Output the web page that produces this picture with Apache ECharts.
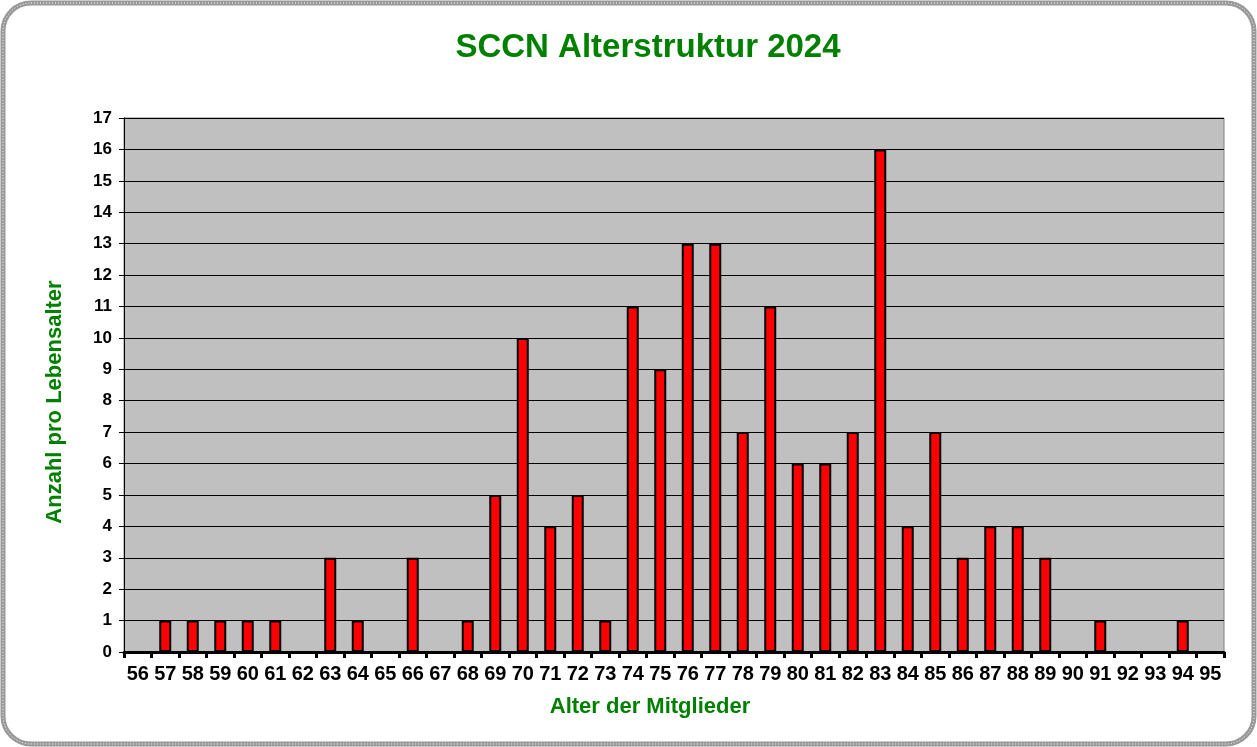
<!DOCTYPE html>
<html><head><meta charset="utf-8">
<script src="https://cdn.jsdelivr.net/npm/echarts@6/dist/echarts.min.js"></script>
<style>html,body{margin:0;padding:0;background:#fff}#c{width:1257px;height:747px}</style>
</head><body><div id="c"></div>
<script>
const categories = ['56','57','58','59','60','61','62','63','64','65','66','67','68','69','70','71','72','73','74','75','76','77','78','79','80','81','82','83','84','85','86','87','88','89','90','91','92','93','94','95'];
const counts = [0,1,1,1,1,1,0,3,1,0,3,0,1,5,10,4,5,1,11,9,13,13,7,11,6,6,7,16,4,7,3,4,4,3,0,1,0,0,1,0];
const yTicks = {min:0, max:17, interval:1};
const FONT = '"Liberation Sans", Arial, sans-serif';
const chart = echarts.init(document.getElementById('c'));
chart.setOption({
  backgroundColor:'#fff',
  animation:false,
  title:{text:'SCCN Alterstruktur 2024', left:643, top:26, textAlign:'center',
    textStyle:{color:'#008000', fontFamily:FONT, fontWeight:'bold', fontSize:33}},
  grid:{left:124, top:118, right:33, bottom:95, show:true, backgroundColor:'#c0c0c0', borderColor:'#808080', borderWidth:1},
  xAxis:{type:'category', data:categories,
    name:'Alter der Mitglieder', nameLocation:'middle', nameGap:44,
    nameTextStyle:{color:'#008000', fontFamily:FONT, fontWeight:'bold', fontSize:22, padding:[0,48,0,0]},
    axisLine:{lineStyle:{color:'#000', width:3}},
    axisTick:{show:true, length:6, lineStyle:{color:'#000', width:3}, alignWithLabel:false},
    axisLabel:{color:'#000', fontFamily:FONT, fontWeight:'bold', fontSize:20, margin:12, interval:0},
    splitLine:{show:false}},
  yAxis:{type:'value', min:yTicks.min, max:yTicks.max, interval:yTicks.interval,
    name:'Anzahl pro Lebensalter', nameLocation:'middle', nameGap:58, nameRotate:90,
    nameTextStyle:{color:'#008000', fontFamily:FONT, fontWeight:'bold', fontSize:22, padding:[0,34,0,0]},
    axisLine:{show:true, lineStyle:{color:'#000', width:1}},
    axisTick:{show:true, length:5, lineStyle:{color:'#000'}},
    axisLabel:{color:'#000', fontFamily:FONT, fontWeight:'bold', fontSize:17, margin:12},
    splitLine:{show:true, lineStyle:{color:'#000', width:1}}},
  series:[{type:'bar', data:counts, barWidth:12,
    itemStyle:{color:'#ff0000', borderColor:'#000', borderWidth:2}}],
  graphic:[
    {type:'rect', shape:{x:3, y:3, width:1251, height:741, r:28}, silent:true,
      style:{fill:null, stroke:'#999', lineWidth:5}},
    {type:'rect', shape:{x:3, y:3, width:1251, height:741, r:28}, silent:true,
      style:{fill:null, stroke:'#fff', lineWidth:1, lineDash:[1,2]}}
  ]
});
</script></body></html>
